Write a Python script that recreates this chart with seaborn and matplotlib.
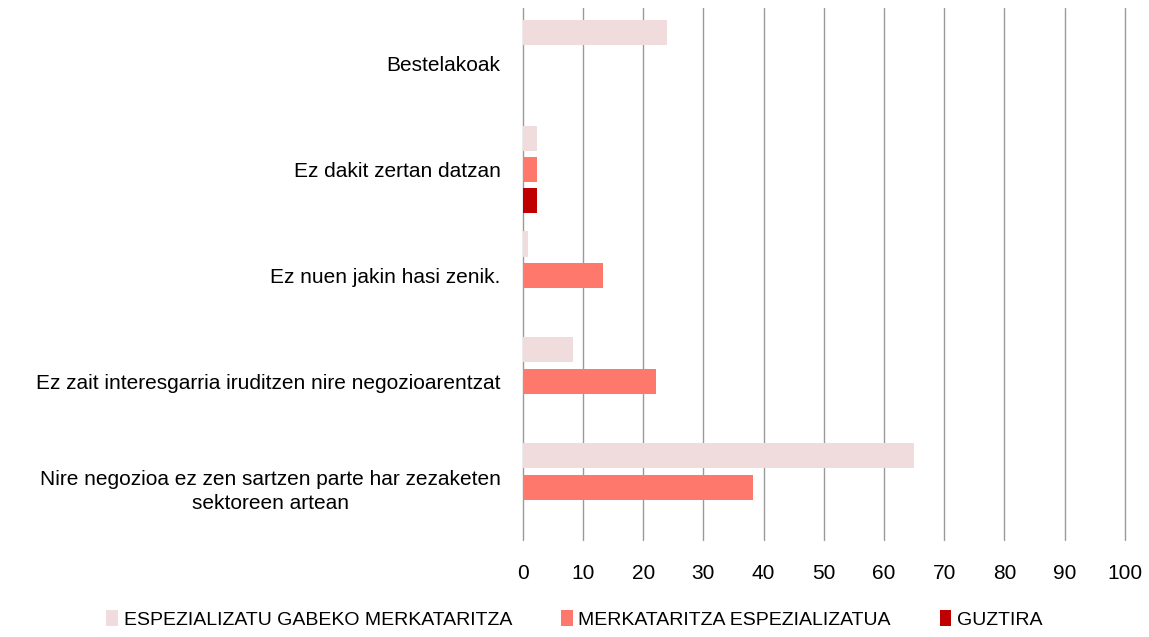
import pandas as pd
import matplotlib.pyplot as plt
import seaborn as sns

categories = [
    "Bestelakoak",
    "Ez dakit zertan datzan",
    "Ez nuen jakin hasi zenik.",
    "Ez zait interesgarria iruditzen nire negozioarentzat",
    "Nire negozioa ez zen sartzen parte har zezaketen\nsektoreen artean",
]
series = ["ESPEZIALIZATU GABEKO MERKATARITZA", "MERKATARITZA ESPEZIALIZATUA", "GUZTIRA"]
gabeko = [23.9, 2.3, 0.9, 8.4, 64.9]
espezializatua = [0.0, 2.3, 13.4, 22.2, 38.2]
guztira = [0.0, 2.4, 0.0, 0.0, 0.0]
colors = ["#F0DCDC", "#FF786C", "#C00000"]
xticks = list(range(0, 101, 10))

rows = []
for s, vals in zip(series, [gabeko, espezializatua, guztira]):
    for c, v in zip(categories, vals):
        rows.append({"kategoria": c, "serie": s, "balioa": v})
df = pd.DataFrame(rows)

sns.set_style("white")
plt.rcParams["font.family"] = ["Liberation Sans", "DejaVu Sans"]
plt.rcParams["text.color"] = "black"

fig = plt.figure(figsize=(11.49, 6.37), dpi=100)
ax = fig.add_axes([0.455, 0.152, 0.524, 0.835])

sns.barplot(data=df, y="kategoria", x="balioa", hue="serie", order=categories,
            hue_order=series, palette=colors, saturation=1, orient="h",
            width=0.886, gap=0.2, linewidth=0, ax=ax, legend=True)

ax.set_xlim(0, 100)
ax.set_ylim(4.5, -0.52)
ax.set_xticks(xticks)
ax.set_xlabel("")
ax.set_ylabel("")
for sp in ax.spines.values():
    sp.set_visible(False)
ax.grid(axis="x", color="#9a9a9a", linewidth=1.0)
for gl in ax.get_xgridlines():
    gl.set_clip_on(False)
ax.grid(axis="y", visible=False)
ax.set_axisbelow(True)
ax.tick_params(axis="x", length=5, color="#9a9a9a", labelsize=15, pad=12,
               labelcolor="black")
ax.tick_params(axis="y", length=0, labelsize=15, pad=16, labelcolor="black")
for lab in ax.get_yticklabels():
    lab.set_multialignment("center")
    lab.set_linespacing(1.3)

handles, labels = ax.get_legend_handles_labels()
ax.legend_.remove()
fig.legend(handles, labels, loc="lower center", bbox_to_anchor=(0.5, -0.015), ncol=3,
           frameon=False, fontsize=14, handlelength=0.6, handleheight=0.9,
           handletextpad=0.3, columnspacing=2.5)

fig.savefig("out.png", dpi=100)
